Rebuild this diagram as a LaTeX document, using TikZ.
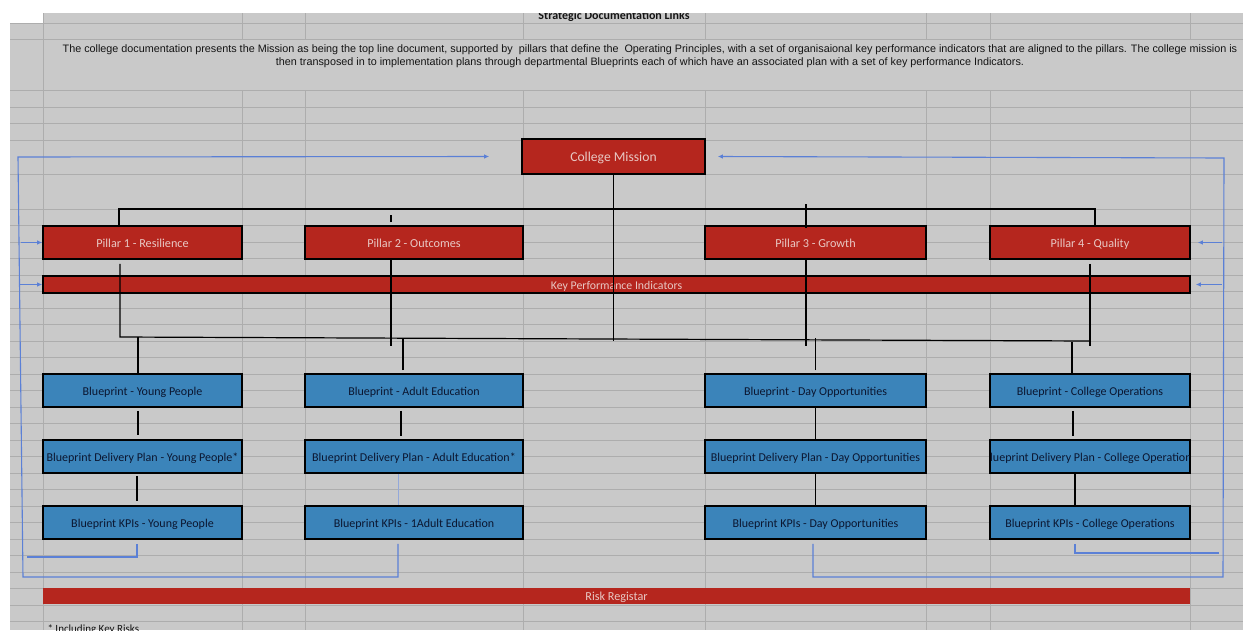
\documentclass[tikz,border=0pt]{standalone}
\usepackage{fontspec}
\setmainfont{Carlito}
\newfontfamily\arialfont{Liberation Sans}
\usepackage{tikz}
\usetikzlibrary{arrows.meta}
\usetikzlibrary{calc}
\definecolor{cellgrey}{HTML}{C9C9C9}
\definecolor{gridgrey}{HTML}{ADADAD}
\definecolor{pillarred}{HTML}{B5261E}
\definecolor{printblue}{HTML}{3B84BA}
\definecolor{linkblue}{HTML}{5B80D6}
\definecolor{faintblue}{HTML}{93A8DA}
\definecolor{paletext}{HTML}{E8C8C4}
\definecolor{navytext}{HTML}{0B1630}
\definecolor{inktext}{HTML}{141414}

\tikzset{
  redbox/.style={draw=black, line width=1.6pt, fill=pillarred, text=paletext, inner sep=0pt, minimum height=33pt, text height=9pt, text depth=0pt, font=\fontsize{12.2}{14}\selectfont},
  bluebox/.style={draw=black, line width=1.6pt, fill=printblue, text=navytext, inner sep=0pt, minimum height=33pt, text height=9pt, text depth=0pt, font=\fontsize{12}{14}\selectfont},
  conn/.style={line width=1.2pt, black},
  link/.style={line width=1.1pt, linkblue},
  linkarrow/.style={line width=1.1pt, linkblue, -{Latex[length=5pt,width=4.5pt]}}
}

\begin{document}
\begin{tikzpicture}[x=1pt, y=-1pt]
\useasboundingbox (0,0) rectangle (1243,630);
\fill[white] (0,0) rectangle (1243,630);
\fill[cellgrey] (10,23) rectangle (1243,630);
\fill[cellgrey] (43,13) rectangle (1243,23);

% sheet grid
\foreach \y in {23,39,90,107,123,140,174}
  \draw[gridgrey, line width=0.8pt] (10,\y) -- (1243,\y);
\foreach \k in {0,...,25}
  \draw[gridgrey, line width=0.8pt] (10,209+16.5*\k) -- (1243,209+16.5*\k);
\draw[gridgrey, line width=0.8pt] (43,13) -- (43,630);
\foreach \x in {242,305,523,705,926,990,1190}
  \draw[gridgrey, line width=0.8pt] (\x,13) -- (\x,39) (\x,90) -- (\x,630);

% title and text
\begin{scope}
  \clip (43,13) rectangle (1243,23);
  \node[anchor=base, text=inktext, font=\bfseries\fontsize{12}{14}\selectfont] (title) at (614,19.5) {Strategic Documentation Links};
\end{scope}
\node[anchor=base, align=center, text=inktext, font=\arialfont\fontsize{10.8}{13}\selectfont] (intro) at (650,65) {The college documentation presents the Mission as being the top line document, supported by\ \ pillars that define the\ \ Operating Principles, with a set of organisaional key performance indicators that are aligned to the pillars. The college mission is\\then transposed in to implementation plans through departmental Blueprints each of which have an associated plan with a set of key performance Indicators.};

% mission and pillars
\node[redbox, minimum width=183pt, minimum height=35pt, text height=10pt, font=\fontsize{13.6}{15}\selectfont] (mission) at (613.5,156.5) {College Mission};
\node[redbox, minimum width=199pt] (p1) at (142.5,242.5) {Pillar 1 - Resilience};
\node[redbox, minimum width=218pt] (p2) at (414,242.5) {Pillar 2 - Outcomes};
\node[redbox, minimum width=221pt] (p3) at (815.5,242.5) {Pillar 3 - Growth};
\node[redbox, minimum width=200pt] (p4) at (1090,242.5) {Pillar 4 - Quality};
\node[redbox, minimum width=1147pt, minimum height=17pt, font=\fontsize{11.8}{13}\selectfont] (kpi) at (616.5,284.5) {Key Performance Indicators};

% blueprints
\node[bluebox, minimum width=199pt] (bp1) at (142.5,390.5) {Blueprint - Young People};
\node[bluebox, minimum width=218pt] (bp2) at (414,390.5) {Blueprint - Adult Education};
\node[bluebox, minimum width=221pt] (bp3) at (815.5,390.5) {Blueprint - Day Opportunities};
\node[bluebox, minimum width=200pt] (bp4) at (1090,390.5) {Blueprint - College Operations};

\node[bluebox, minimum width=199pt] (dp1) at (142.5,456.5) {Blueprint Delivery Plan - Young People*};
\node[bluebox, minimum width=218pt] (dp2) at (414,456.5) {Blueprint Delivery Plan - Adult Education*};
\node[bluebox, minimum width=221pt] (dp3) at (815.5,456.5) {Blueprint Delivery Plan - Day Opportunities};
\node[bluebox, minimum width=200pt] (dp4) at (1090,456.5) {};
\begin{scope}
  \clip ([xshift=1pt,yshift=1pt]dp4.south west) rectangle ([xshift=-1pt,yshift=-1pt]dp4.north east);
  \node[text=navytext, inner sep=0pt, text height=9pt, text depth=0pt, font=\fontsize{12}{14}\selectfont] (dp4text) at (dp4.center) {Blueprint Delivery Plan - College Operations};
\end{scope}

\node[bluebox, minimum width=199pt] (kp1) at (142.5,522.5) {Blueprint KPIs - Young People};
\node[bluebox, minimum width=218pt] (kp2) at (414,522.5) {Blueprint KPIs - 1Adult Education};
\node[bluebox, minimum width=221pt] (kp3) at (815.5,522.5) {Blueprint KPIs - Day Opportunities};
\node[bluebox, minimum width=200pt] (kp4) at (1090,522.5) {Blueprint KPIs - College Operations};

\node[fill=pillarred, text=paletext, inner sep=0pt, minimum width=1147pt, minimum height=16pt, text height=9pt, text depth=0pt, font=\fontsize{12.2}{13}\selectfont] (risk) at (616.5,596) {Risk Registar};
\node[anchor=base west, text=inktext, font=\fontsize{11}{12}\selectfont] (note) at (44,632.5) {* Including Key Risks};

% top bar over the pillars
\coordinate (tbl) at (119,209);
\coordinate (tbr) at (1095,209);
\draw[conn] ([xshift=-23.5pt]p1.north) -- (tbl) -- (tbr) -- ([xshift=5pt]p4.north);
\draw[conn] ([xshift=-23pt,yshift=3pt]p2.north) -- ++(0,-7);
\draw[conn] ([xshift=-9.5pt,yshift=-3pt]p3.north) -- ++(0,-24);

% bottom bar under the pillars
\coordinate (bbl) at (120,337);
\coordinate (bbr) at (1090,341);
\draw[conn] (mission.south) -- (mission.south |- bbr);
\draw[conn] ([xshift=-22.5pt,yshift=-4pt]p1.south) -- (bbl) -- (bbr);
\draw[conn] ([yshift=-4pt]p4.south) -- ++(0,82);
\draw[conn] ([xshift=-23pt]p2.south) -- ++(0,86);
\draw[conn] ([xshift=-9.5pt]p3.south) -- ++(0,86);

% down to the blueprints
\draw[conn] ([xshift=-4.5pt]bp1.north) -- ++(0,-36);
\draw[conn] ([xshift=-11pt,yshift=3pt]bp2.north) -- ++(0,-32);
\draw[conn] ([yshift=3pt]bp3.north) -- ++(0,-32);
\draw[conn] ([xshift=-18pt]bp4.north) -- ++(0,-31);

\draw[conn] ([xshift=-4.5pt,yshift=-3pt]bp1.south) -- ([xshift=-4.5pt,yshift=4pt]dp1.north);
\draw[conn] ([xshift=-13pt,yshift=-3pt]bp2.south) -- ([xshift=-13pt,yshift=3pt]dp2.north);
\draw[conn] (bp3.south) -- (dp3.north);
\draw[conn] ([xshift=-17pt,yshift=-3pt]bp4.south) -- ([xshift=-17pt,yshift=3pt]dp4.north);

\draw[conn] ([xshift=-5.5pt,yshift=-2pt]dp1.south) -- ([xshift=-5.5pt,yshift=4pt]kp1.north);
\draw[faintblue, line width=0.7pt] ([xshift=-16pt]dp2.south) -- ([xshift=-16pt]kp2.north);
\draw[conn] (dp3.south) -- (kp3.north);
\draw[conn] ([xshift=-15pt]dp4.south) -- ([xshift=-15pt]kp4.north);

% feedback loops
\coordinate (linner) at (27,557);
\coordinate (louter) at (23,577);
\coordinate (ltop) at (18,157);
\draw[link] ([xshift=-5.5pt,yshift=-4pt]kp1.south) |- (linner);
\draw[linkarrow] ([xshift=-16pt,yshift=-4pt]kp2.south) |- (louter) -- (ltop) -- ([xshift=-32pt]mission.west);
\draw[linkarrow] ([xshift=-21pt]p1.west) -- (p1.west);
\draw[linkarrow] ([xshift=-22pt]kpi.west) -- (kpi.west);

\coordinate (rinner) at (1219,553);
\coordinate (router) at (1223,577);
\coordinate (rtop) at (1224,158);
\draw[link] ([xshift=-15pt,yshift=-4pt]kp4.south) |- (rinner);
\draw[linkarrow] ([xshift=-2.5pt,yshift=-4pt]kp3.south) |- (router) -- (rtop) -- ([xshift=12pt]mission.east);
\draw[linkarrow] ([xshift=31pt]p4.east) -- ([xshift=7pt]p4.east);
\draw[linkarrow] ([xshift=31pt]kpi.east) -- ([xshift=5pt]kpi.east);

\end{tikzpicture}
\end{document}
